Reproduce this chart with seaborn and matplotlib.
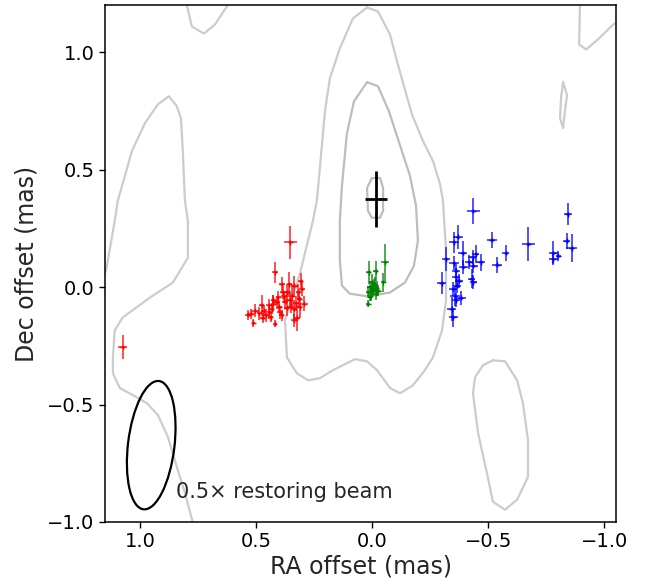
import numpy as np
import pandas as pd
import seaborn as sns
import matplotlib
matplotlib.use("Agg")
import matplotlib.pyplot as plt
from matplotlib.patches import Ellipse

# ---- component positions (mas) ----
red_x = [0.418, 0.352, 1.074, 0.389, 0.357, 0.335, 0.308, 0.302, 0.385, 0.379,
         0.354, 0.344, 0.328, 0.313, 0.293, 0.411, 0.425, 0.443, 0.433, 0.476,
         0.504, 0.523, 0.466, 0.457, 0.397, 0.368, 0.351, 0.336, 0.325, 0.335,
         0.389, 0.418, 0.512, 0.471, 0.443, 0.404, 0.368, 0.318, 0.486, 0.425,
         0.375, 0.400, 0.311, 0.437, 0.533]
red_y = [0.062, 0.190, -0.255, 0.013, 0.011, 0.006, 0.025, -0.008, -0.022, -0.040,
         -0.054, -0.036, -0.069, -0.050, -0.071, -0.064, -0.071, -0.078, -0.093, -0.078,
         -0.100, -0.114, -0.100, -0.121, -0.107, -0.088, -0.083, -0.093, -0.131, -0.142,
         -0.121, -0.156, -0.152, -0.131, -0.107, -0.043, -0.022, -0.022, -0.111, -0.054,
         -0.064, -0.083, -0.086, -0.128, -0.118]
red_xerr = [0.013, 0.027, 0.019, 0.014, 0.011, 0.014, 0.011, 0.014, 0.011, 0.014,
            0.014, 0.011, 0.011, 0.011, 0.017, 0.014, 0.011, 0.014, 0.011, 0.011,
            0.017, 0.017, 0.011, 0.011, 0.014, 0.011, 0.011, 0.011, 0.014, 0.014,
            0.011, 0.007, 0.007, 0.011, 0.011, 0.011, 0.011, 0.011, 0.011, 0.011,
            0.011, 0.011, 0.011, 0.011, 0.014]
red_yerr = [0.045, 0.069, 0.050, 0.028, 0.055, 0.040, 0.036, 0.028, 0.028, 0.022,
            0.036, 0.045, 0.033, 0.036, 0.033, 0.028, 0.036, 0.028, 0.022, 0.045,
            0.028, 0.022, 0.022, 0.028, 0.028, 0.036, 0.028, 0.036, 0.055, 0.028,
            0.022, 0.014, 0.018, 0.022, 0.028, 0.028, 0.036, 0.033, 0.028, 0.022,
            0.028, 0.022, 0.045, 0.022, 0.022]

green_x = [-0.055, -0.015, 0.014, -0.048, 0.002, -0.009, 0.010, -0.019, -0.005,
           0.017, -0.015, 0.005, 0.017, -0.012, -0.026, -0.001, 0.009]
green_y = [0.105, 0.067, 0.063, 0.020, 0.020, 0.006, -0.001, -0.004, -0.015,
           -0.022, -0.029, -0.036, -0.071, 0.013, -0.015, -0.008, -0.043]
green_xerr = [0.019, 0.012, 0.011, 0.012, 0.012, 0.010, 0.010, 0.010, 0.010,
              0.010, 0.010, 0.010, 0.008, 0.010, 0.010, 0.010, 0.008]
green_yerr = [0.078, 0.042, 0.050, 0.039, 0.035, 0.030, 0.028, 0.028, 0.025,
              0.025, 0.025, 0.022, 0.015, 0.030, 0.025, 0.025, 0.015]

blue_x = [-0.436, -0.368, -0.352, -0.390, -0.318, -0.352, -0.392, -0.361, -0.418,
          -0.433, -0.436, -0.447, -0.467, -0.515, -0.539, -0.428, -0.436, -0.299,
          -0.361, -0.375, -0.364, -0.349, -0.357, -0.381, -0.342, -0.349, -0.361,
          -0.576, -0.672, -0.780, -0.780, -0.802, -0.842, -0.838, -0.859]
blue_y = [0.324, 0.214, 0.190, 0.145, 0.119, 0.101, 0.087, 0.070, 0.105,
          0.126, 0.091, 0.141, 0.105, 0.200, 0.095, 0.035, 0.020, 0.016,
          0.042, 0.027, 0.006, -0.008, -0.040, -0.046, -0.093, -0.128, -0.057,
          0.145, 0.183, 0.145, 0.119, 0.133, 0.310, 0.197, 0.165]
blue_xerr = [0.029, 0.022, 0.022, 0.019, 0.019, 0.020, 0.020, 0.018, 0.018,
             0.020, 0.018, 0.015, 0.019, 0.022, 0.022, 0.015, 0.015, 0.019,
             0.018, 0.018, 0.018, 0.018, 0.020, 0.022, 0.019, 0.020, 0.018,
             0.015, 0.029, 0.020, 0.020, 0.010, 0.018, 0.015, 0.025]
blue_yerr = [0.057, 0.050, 0.045, 0.053, 0.050, 0.030, 0.030, 0.030, 0.030,
             0.030, 0.030, 0.040, 0.035, 0.035, 0.035, 0.040, 0.030, 0.046,
             0.040, 0.030, 0.030, 0.030, 0.040, 0.030, 0.050, 0.040, 0.030,
             0.032, 0.071, 0.050, 0.020, 0.020, 0.046, 0.035, 0.060]

# core position
core_x, core_y, core_xerr, core_yerr = [-0.015], [0.374], [0.047], [0.120]

# ---- grey contours of the image (traced paths, mas) ----
cont_a_x = [0.80, 0.776, 0.724, 0.677, 0.615]
cont_a_y = [1.21, 1.109, 1.079, 1.117, 1.21]
cont_b_x = [1.16, 1.143, 1.108, 1.095, 1.034, 0.978, 0.922, 0.875, 0.841, 0.823,
            0.815, 0.806, 0.793, 0.793, 0.858, 0.957, 1.073, 1.108, 1.116, 1.116,
            1.086, 1.030, 0.970, 0.922, 0.879, 0.841, 0.806, 0.770]
cont_b_y = [0.028, 0.083, 0.282, 0.367, 0.579, 0.698, 0.778, 0.812, 0.770, 0.719,
            0.579, 0.367, 0.282, 0.125, 0.019, -0.045, -0.129, -0.184, -0.299, -0.367,
            -0.430, -0.460, -0.494, -0.545, -0.638, -0.765, -0.876, -1.01]
cont_c_x = [0.022, -0.025, -0.077, -0.107, -0.171, -0.219, -0.262, -0.292, -0.305,
            -0.318, -0.318, -0.301, -0.262, -0.227, -0.176, -0.120, -0.077, -0.021,
            0.022, 0.074, 0.169, 0.225, 0.276, 0.324, 0.367, 0.375, 0.311, 0.255,
            0.238, 0.225, 0.203, 0.182, 0.139, 0.083, 0.022]
cont_c_y = [1.190, 1.173, 1.075, 0.961, 0.736, 0.621, 0.536, 0.439, 0.367,
            0.155, -0.057, -0.184, -0.299, -0.354, -0.418, -0.452, -0.430, -0.354,
            -0.316, -0.307, -0.354, -0.388, -0.397, -0.367, -0.299, -0.142, 0.057, 0.282,
            0.367, 0.507, 0.749, 0.888, 1.016, 1.143, 1.190]
cont_d_x = [0.022, -0.025, -0.072, -0.128, -0.163, -0.189, -0.197, -0.180, -0.141,
            -0.077, 0.018, 0.096, 0.130, 0.139, 0.139, 0.130, 0.109, 0.078, 0.022]
cont_d_y = [0.872, 0.855, 0.749, 0.579, 0.473, 0.346, 0.197, 0.091, 0.019,
            -0.023, -0.040, -0.028, 0.006, 0.112, 0.282, 0.430, 0.651, 0.791, 0.872]
cont_e_x = [0.001, -0.034, -0.047, -0.047, -0.034, 0.001, 0.018, 0.022, 0.001]
cont_e_y = [0.464, 0.464, 0.422, 0.324, 0.295, 0.295, 0.324, 0.422, 0.464]
cont_f_x = [-0.895, -0.891, -0.921, -0.972, -1.037, -1.06]
cont_f_y = [1.21, 1.033, 1.011, 1.054, 1.117, 1.13]
cont_g_x = [-0.822, -0.839, -0.830, -0.822, -0.809, -0.813, -0.822]
cont_g_y = [0.872, 0.817, 0.749, 0.677, 0.719, 0.804, 0.872]
cont_h_x = [-0.520, -0.572, -0.624, -0.649, -0.671, -0.671, -0.624, -0.572, -0.520,
            -0.494, -0.456, -0.434, -0.443, -0.477, -0.520]
cont_h_y = [-0.312, -0.316, -0.397, -0.494, -0.651, -0.808, -0.905, -0.948, -0.914,
            -0.791, -0.621, -0.452, -0.384, -0.333, -0.312]

# restoring beam (x0.5)
beam_x, beam_y = 0.951, -0.673
beam_minor, beam_major, beam_pa = 0.20, 0.55, 7.0

sns.set_style("ticks")
plt.rcParams["font.family"] = ["DejaVu Sans"]
plt.rcParams["axes.edgecolor"] = "black"
plt.rcParams["xtick.color"] = "black"
plt.rcParams["ytick.color"] = "black"

fig = plt.figure(figsize=(6.62, 5.84), dpi=100)
ax = fig.add_axes([0.1586, 0.1062, 0.772, 0.885])

outer = [(cont_a_x, cont_a_y), (cont_b_x, cont_b_y), (cont_c_x, cont_c_y),
         (cont_f_x, cont_f_y), (cont_g_x, cont_g_y), (cont_h_x, cont_h_y)]
for cx, cy in outer:
    ax.plot(cx, cy, color="0.8", lw=1.6, zorder=1)
for cx, cy in [(cont_d_x, cont_d_y), (cont_e_x, cont_e_y)]:
    ax.plot(cx, cy, color="0.74", lw=1.6, zorder=1)

groups = [
    (red_x, red_y, red_xerr, red_yerr, "red"),
    (green_x, green_y, green_xerr, green_yerr, "green"),
    (blue_x, blue_y, blue_xerr, blue_yerr, "blue"),
]
frames = []
for gx, gy, gxe, gye, c in groups:
    ax.errorbar(gx, gy, xerr=gxe, yerr=gye, fmt="none", ecolor=c,
                elinewidth=1.2, alpha=0.8, zorder=2)
    frames.append(pd.DataFrame({"x": gx, "y": gy, "comp": c}))
df = pd.concat(frames, ignore_index=True)
sns.scatterplot(data=df, x="x", y="y", hue="comp",
                palette={"red": "red", "green": "green", "blue": "blue"},
                marker="+", s=12, linewidth=1.0, legend=False, ax=ax, zorder=3)

ax.errorbar(core_x, core_y, xerr=core_xerr, yerr=core_yerr, fmt="none",
            ecolor="black", elinewidth=2, zorder=4)

ax.add_patch(Ellipse((beam_x, beam_y), width=beam_minor, height=beam_major,
                     angle=beam_pa, fill=False, edgecolor="black", lw=1.6, zorder=4))
ax.text(0.845, -0.872, "0.5\u00d7 restoring beam", fontsize=15, ha="left", va="center")

ax.set_xlim(1.15, -1.05)
ax.set_ylim(-1.0, 1.2)
ax.set_xticks([1.0, 0.5, 0.0, -0.5, -1.0])
ax.set_yticks([-1.0, -0.5, 0.0, 0.5, 1.0])
ax.tick_params(labelsize=14, length=4, width=1)
ax.set_xlabel("RA offset (mas)", fontsize=17, labelpad=2)
ax.set_ylabel("Dec offset (mas)", fontsize=17, labelpad=6)
for s in ax.spines.values():
    s.set_linewidth(1.1)
    s.set_visible(True)

fig.savefig("out.png", dpi=100)
